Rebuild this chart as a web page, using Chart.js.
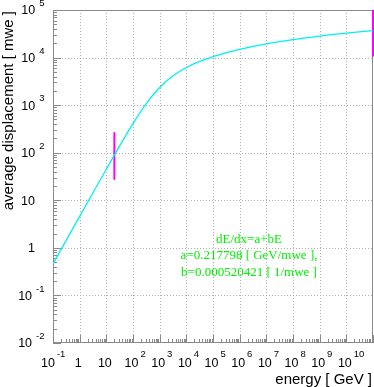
<!DOCTYPE html>
<html>
<head>
<meta charset="utf-8">
<script src="https://cdn.jsdelivr.net/npm/chart.js@4/dist/chart.umd.min.js"></script>
<style>
    html, body { margin: 0; padding: 0; background: #ffffff; }
    #wrap { width: 374px; height: 387px; }
</style>
</head>
<body>
<div id="wrap"><canvas id="range-chart" width="374" height="387"></canvas></div>
<script>
// curve (energy in GeV, displacement in mwe)
const energy = [0.1, 0.3, 1, 3, 10, 30, 100, 300, 1000, 3000, 1e4, 3e4, 1e5, 3e5, 1e6, 1e7, 1e8, 1e9, 1e10, 1e11];
const displacement = [0.46, 1.38, 4.6, 13.7, 45, 133, 410, 1040, 2350, 4040, 6180, 8240, 10500, 12600, 14900, 19400, 23800, 28200, 32600, 37000];

// vertical magenta bars
const markerEnergy = [20, 1e11];
const markerLow = [27, 10500];
const markerHigh = [270, 100000];

// axis ranges and decade labels
const xRange = [0.1, 1e11];
const yRange = [0.01, 1e5];
const xTickValues = [1e-1, 1, 10, 1e2, 1e3, 1e4, 1e5, 1e6, 1e7, 1e8, 1e9, 1e10];
const xTickBase = ['10', '1', '10', '10', '10', '10', '10', '10', '10', '10', '10', '10'];
const xTickExp = ['-1', '', '', '2', '3', '4', '5', '6', '7', '8', '9', '10'];
const yTickValues = [1e-2, 1e-1, 1, 10, 1e2, 1e3, 1e4, 1e5];
const yTickBase = ['10', '10', '1', '10', '10', '10', '10', '10'];
const yTickExp = ['-2', '-1', '', '', '2', '3', '4', '5'];

const fitLines = ['dE/dx=a+bE', 'a=0.217798 [ GeV/mwe ],', 'b=0.000520421 [ 1/mwe ]'];

const FRAME = '#8a8a8a';
const GRID = '#b0b0b0';
const SANS = '"Liberation Sans", Arial, sans-serif';

function decades(min, max) {
    const out = [];
    for (let e = Math.round(Math.log10(min)); e <= Math.round(Math.log10(max)); e++) {
        out.push(Math.pow(10, e));
    }
    return out;
}

function drawGridAndTicks(chart) {
    const { ctx, chartArea: area } = chart;
    const xs = chart.scales.x;
    const ys = chart.scales.y;
    const xDec = decades(xRange[0], xRange[1]);
    const yDec = decades(yRange[0], yRange[1]);

    ctx.save();
    ctx.strokeStyle = GRID;
    ctx.lineWidth = 1;
    ctx.setLineDash([1, 2]);
    xDec.forEach((v) => {
        const px = Math.round(xs.getPixelForValue(v)) + 0.5;
        if (px <= area.left + 1 || px >= area.right - 1) return;
        ctx.beginPath();
        ctx.moveTo(px, area.top);
        ctx.lineTo(px, area.bottom);
        ctx.stroke();
    });
    yDec.forEach((v) => {
        const py = Math.round(ys.getPixelForValue(v)) + 0.5;
        if (py <= area.top + 1 || py >= area.bottom - 1) return;
        ctx.beginPath();
        ctx.moveTo(area.left, py);
        ctx.lineTo(area.right, py);
        ctx.stroke();
    });
    ctx.setLineDash([]);

    // ticks inside the frame, decade ticks longer
    ctx.strokeStyle = FRAME;
    ctx.beginPath();
    xDec.forEach((v) => {
        for (let m = 1; m <= 9; m++) {
            const val = v * m;
            if (val < xRange[0] || val > xRange[1]) continue;
            const px = Math.round(xs.getPixelForValue(val)) + 0.5;
            const len = m === 1 ? 8 : 4;
            ctx.moveTo(px, area.bottom);
            ctx.lineTo(px, area.bottom - len);
        }
    });
    yDec.forEach((v) => {
        for (let m = 1; m <= 9; m++) {
            const val = v * m;
            if (val < yRange[0] || val > yRange[1]) continue;
            const py = Math.round(ys.getPixelForValue(val)) + 0.5;
            const len = m === 1 ? 8 : 4;
            ctx.moveTo(area.left, py);
            ctx.lineTo(area.left + len, py);
        }
    });
    ctx.stroke();
    ctx.restore();
}

function drawFrame(chart) {
    const { ctx, chartArea: area } = chart;
    ctx.save();
    ctx.strokeStyle = FRAME;
    ctx.lineWidth = 1;
    ctx.strokeRect(Math.round(area.left) + 0.5, Math.round(area.top) + 0.5,
        Math.round(area.right - area.left) - 1, Math.round(area.bottom - area.top) - 1);
    ctx.restore();
}

function drawTickLabels(chart) {
    const { ctx } = chart;
    const xs = chart.scales.x;
    const ys = chart.scales.y;
    const baseFont = '12.5px ' + SANS;
    const expFont = '9.5px ' + SANS;

    ctx.save();
    ctx.fillStyle = '#000000';
    ctx.textBaseline = 'middle';

    xTickValues.forEach((v, i) => {
        const px = xs.getPixelForValue(v);
        const base = xTickBase[i];
        const exp = xTickExp[i];
        const shift = exp.startsWith('-') ? -5 : -1.5;
        ctx.font = baseFont;
        const bw = ctx.measureText(base).width;
        const bx = px + shift - bw / 2;
        ctx.textAlign = 'left';
        ctx.fillText(base, bx, 363.5);
        if (exp) {
            ctx.font = expFont;
            ctx.fillText(exp, bx + bw + 2, 354.5);
        }
    });

    yTickValues.forEach((v, i) => {
        const py = ys.getPixelForValue(v);
        const base = yTickBase[i];
        const exp = yTickExp[i];
        ctx.font = baseFont;
        ctx.textAlign = 'left';
        const bw = ctx.measureText(base).width;
        if (!exp) {
            ctx.fillText(base, 35 - bw, py + 1);
            return;
        }
        ctx.font = expFont;
        const ew = ctx.measureText(exp).width;
        const right = 44.5;
        ctx.fillText(exp, right - ew, py - 6.5);
        ctx.font = baseFont;
        ctx.fillText(base, right - ew - 4 - bw, py + 1);
    });
    ctx.restore();
}

function drawTitles(chart) {
    const { ctx } = chart;
    ctx.save();
    ctx.fillStyle = '#000000';
    ctx.font = '15px ' + SANS;
    ctx.textBaseline = 'middle';
    ctx.textAlign = 'right';
    ctx.fillText('energy [ GeV ]', 372, 380);

    ctx.translate(9, 11);
    ctx.rotate(-Math.PI / 2);
    ctx.fillText('average displacement [ mwe ]', 0, 0);
    ctx.restore();
}

function drawFitText(chart) {
    const { ctx } = chart;
    const baselines = [242.5, 259, 275.5];
    ctx.save();
    ctx.fillStyle = '#00ee00';
    ctx.font = '13px "Liberation Serif", "Times New Roman", serif';
    ctx.textAlign = 'center';
    ctx.textBaseline = 'alphabetic';
    fitLines.forEach((line, i) => {
        ctx.fillText(line, 249, baselines[i]);
    });
    ctx.restore();
}

const rootStylePlugin = {
    id: 'rootStyle',
    beforeDatasetsDraw(chart) {
        drawGridAndTicks(chart);
        drawFrame(chart);
    },
    afterDraw(chart) {
        drawTickLabels(chart);
        drawTitles(chart);
        drawFitText(chart);
    },
};

function markerDataset(i) {
    return {
        label: 'marker ' + i,
        data: [
            { x: markerEnergy[i], y: markerLow[i] },
            { x: markerEnergy[i], y: markerHigh[i] },
        ],
        borderColor: '#ff00ff',
        borderWidth: 2,
        pointRadius: 0,
        showLine: true,
        clip: 3,
    };
}

function initRangeChart() {
    const canvas = document.getElementById('range-chart');
    const ctx = canvas.getContext('2d');

    const curve = energy.map((e, i) => ({ x: e, y: displacement[i] }));

    return new Chart(ctx, {
        type: 'line',
        data: {
            datasets: [
                {
                    label: 'range',
                    data: curve,
                    borderColor: '#00f0f0',
                    borderWidth: 1.3,
                    pointRadius: 0,
                    cubicInterpolationMode: 'monotone',
                    fill: false,
                },
                markerDataset(0),
                markerDataset(1),
            ],
        },
        options: {
            responsive: false,
            animation: false,
            devicePixelRatio: 1,
            layout: {
                padding: { top: 10, right: 1, left: 0, bottom: 0 },
            },
            plugins: {
                legend: { display: false },
                tooltip: { enabled: false },
            },
            scales: {
                x: {
                    type: 'logarithmic',
                    min: xRange[0],
                    max: xRange[1],
                    ticks: { display: false },
                    grid: { display: false, drawTicks: false },
                    border: { display: false },
                    afterFit(scale) {
                        scale.height = 44;
                    },
                },
                y: {
                    type: 'logarithmic',
                    min: yRange[0],
                    max: yRange[1],
                    ticks: { display: false },
                    grid: { display: false, drawTicks: false },
                    border: { display: false },
                    afterFit(scale) {
                        scale.width = 53;
                    },
                },
            },
        },
        plugins: [rootStylePlugin],
    });
}

document.addEventListener('DOMContentLoaded', initRangeChart);
</script>
</body>
</html>
